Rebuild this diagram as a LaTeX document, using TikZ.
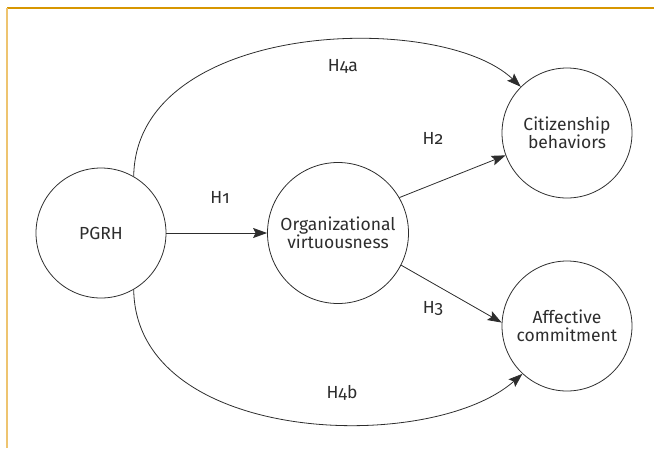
\documentclass[tikz,border=0pt]{standalone}
\usepackage{fontspec}
\setmainfont{Fira Sans}[Numbers=OldStyle]
\usetikzlibrary{arrows.meta}
\definecolor{frameorange}{RGB}{215,150,0}
\definecolor{framelight}{RGB}{238,196,112}
\definecolor{inkgray}{RGB}{45,45,45}
\begin{document}
\begin{tikzpicture}[x=1pt,y=-1pt]
        \tikzstyle{every node}=[text=inkgray,font=\fontsize{17.5}{18.5}\selectfont];
        \tikzstyle{construct}=[draw=inkgray,line width=0.8pt,shape=circle,inner sep=0pt,align=center];
        \tikzstyle{link}=[draw=inkgray,line width=0.8pt,-{Stealth[length=14pt,width=10pt,inset=2.5pt]}];
        \useasboundingbox (0,0) rectangle (654,448);
        %frame
        \draw[frameorange,line width=1.4pt] (7,8) -- (654,8);
        \draw[framelight,line width=1.4pt] (7,8) -- (7,448);
        \node[construct,minimum size=130pt] (pgrh) at (101,233) {PGRH};
        \node[construct,minimum size=141pt] (ov) at (338,233) {Organizational\\virtuousness};
        \node[construct,minimum size=130pt] (cb) at (567,133) {Citizenship\\behaviors};
        \node[construct,minimum size=130pt] (ac) at (567,326) {Affective\\commitment};
        \draw[link] (pgrh.east)--(ov.west);
        \draw[link] (ov.30)--(cb.200);
        \draw[link] (ov.-27)--(ac.177);
        \draw[link] (pgrh.60) .. controls (136,20) and (440,10) .. (cb.135);
        \draw[link] (pgrh.-60) .. controls (136,445) and (430,455) .. (ac.-133);
        \node[anchor=base] (h1) at (220,203) {H1};
        \node[anchor=base] (h2) at (433,144) {H2};
        \node[anchor=base] (h3) at (433,313) {H3};
        \node[anchor=base] (h4a) at (343,71) {H4a};
        \node[anchor=base] (h4b) at (342,398) {H4b};
    \end{tikzpicture}
\end{document}
